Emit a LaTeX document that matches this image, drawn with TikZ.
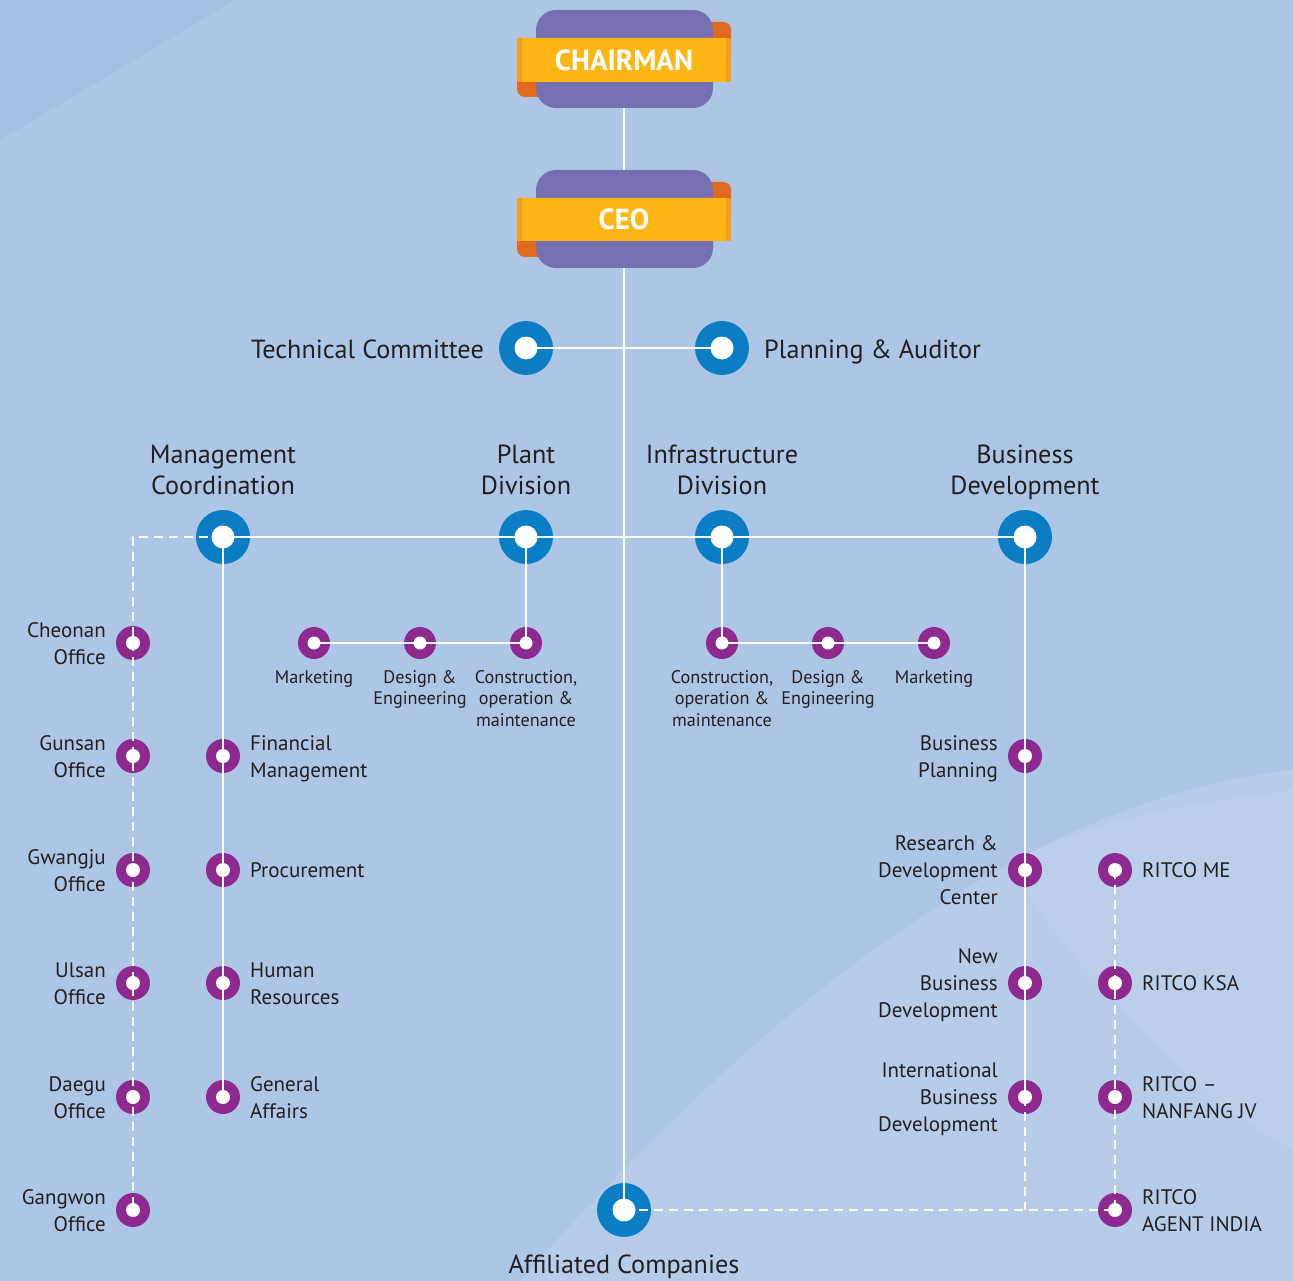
\documentclass[tikz,border=0pt]{standalone}
\usepackage{fontspec}
\setmainfont{PT Sans}
\usetikzlibrary{calc}
\definecolor{bgc}{HTML}{ADC6E6}
\definecolor{bgdark}{HTML}{A5BEE4}
\definecolor{bglight}{HTML}{C4D5EE}
\definecolor{nblue}{HTML}{0A7DC5}
\definecolor{npurp}{HTML}{8E2A8F}
\definecolor{boxp}{HTML}{7670B1}
\definecolor{ribbon}{HTML}{FDB614}
\definecolor{ribbonend}{HTML}{F5A01C}
\definecolor{tabor}{HTML}{E06A1E}
\definecolor{txt}{HTML}{231F20}
\tikzset{
  bnode/.style={circle,fill=nblue,minimum size=54pt,inner sep=0pt,
    path picture={\fill[white] (path picture bounding box.center) circle (11.5);}},
  pnode/.style={circle,fill=npurp,minimum size=34pt,inner sep=0pt,
    path picture={\fill[white] (path picture bounding box.center) circle (7);}},
  psmall/.style={circle,fill=npurp,minimum size=32pt,inner sep=0pt,
    path picture={\fill[white] (path picture bounding box.center) circle (6.5);}},
  wline/.style={white,line width=2pt},
  dline/.style={white,line width=2pt,dash pattern=on 9pt off 6pt},
  biglab/.style={text=txt,font=\fontsize{26.2}{30.5}\selectfont,align=center,inner sep=0pt,yshift=-3pt},
  sidel/.style={text=txt,font=\fontsize{21}{27}\selectfont,inner sep=0pt,yshift=-2.5pt},
  subl/.style={text=txt,font=\fontsize{18.2}{21.5}\selectfont,align=center,inner sep=0pt,anchor=north,yshift=-3pt},
  ribtext/.style={text=white,font=\fontsize{29}{30}\selectfont\bfseries,inner sep=0pt}
}
\begin{document}
\begin{tikzpicture}[x=1pt,y=-1pt]
\useasboundingbox (0,0) rectangle (1293,1281);
% background
\fill[bgc] (0,0) rectangle (1293,1281);
\fill[bgdark] (0,0) -- (235,0) -- (0,140) -- cycle;
\fill[bglight,opacity=0.45] (520,1281) .. controls (760,1010) and (1020,800) .. (1293,770) -- (1293,1281) -- cycle;
\fill[bglight,opacity=0.35] (1293,790) .. controls (1150,810) and (1050,830) .. (1010,870) .. controls (1100,1000) and (1200,1100) .. (1293,1150) -- cycle;

% Chairman box
\fill[tabor,rounded corners=8pt] (690,22) rectangle (731,62);
\fill[tabor,rounded corners=8pt] (517,58) rectangle (560,97);
\fill[boxp,rounded corners=20pt] (536,10) rectangle (713,108);
\fill[ribbon,rounded corners=3pt] (517,38) rectangle (731,82);
\fill[ribbonend] (517,38) rectangle (522,82);
\fill[ribbonend] (726,38) rectangle (731,82);
\node[ribtext] (chair) at (624,60) {CHAIRMAN};
% CEO box
\fill[tabor,rounded corners=8pt] (690,182) rectangle (731,222);
\fill[tabor,rounded corners=8pt] (517,218) rectangle (560,257);
\fill[boxp,rounded corners=20pt] (536,170) rectangle (713,268);
\fill[ribbon,rounded corners=3pt] (517,198) rectangle (731,241);
\fill[ribbonend] (517,198) rectangle (522,241);
\fill[ribbonend] (726,198) rectangle (731,241);
\node[ribtext] (ceo) at (624,219) {CEO};
\coordinate (chairb) at (624,108);
\coordinate (ceot) at (624,170);
\coordinate (ceob) at (624,268);

% main nodes
\node[bnode] (tc) at (526,348) {};
\node[bnode] (pa) at (722,348) {};
\node[bnode] (mc) at (223,537) {};
\node[bnode] (pd) at (526,537) {};
\node[bnode] (id) at (722,537) {};
\node[bnode] (bd) at (1025,537) {};
\node[bnode] (ac) at (624,1210) {};
\coordinate (mcl) at (133,537);
\coordinate (bdc) at (1025,1210);

% plant / infrastructure subnodes
\node[psmall] (p1) at (314,643) {};
\node[psmall] (p2) at (420,643) {};
\node[psmall] (p3) at (526,643) {};
\node[psmall] (i1) at (722,643) {};
\node[psmall] (i2) at (828,643) {};
\node[psmall] (i3) at (934,643) {};

% offices
\node[pnode] (o1) at (133,643) {};
\node[pnode] (o2) at (133,756) {};
\node[pnode] (o3) at (133,870) {};
\node[pnode] (o4) at (133,983) {};
\node[pnode] (o5) at (133,1097) {};
\node[pnode] (o6) at (133,1210) {};
% management
\node[pnode] (m1) at (223,756) {};
\node[pnode] (m2) at (223,870) {};
\node[pnode] (m3) at (223,983) {};
\node[pnode] (m4) at (223,1097) {};
% business dev
\node[pnode] (b1) at (1025,756) {};
\node[pnode] (b2) at (1025,870) {};
\node[pnode] (b3) at (1025,983) {};
\node[pnode] (b4) at (1025,1097) {};
% ritco
\node[pnode] (r1) at (1115,870) {};
\node[pnode] (r2) at (1115,983) {};
\node[pnode] (r3) at (1115,1097) {};
\node[pnode] (r4) at (1115,1210) {};

% connectors
\draw[wline] (chairb) -- (ceot);
\draw[wline] (ceob) -- (ac.center);
\draw[wline] (tc.center) -- (pa.center);
\draw[wline] (mc.center) -- (bd.center);
\draw[dline] (mc.center) -- (mcl) -- (o6.center);
\draw[wline] (mc.center) -- (m4.center);
\draw[wline] (pd.center) -- (p3.center);
\draw[wline] (p1.center) -- (p3.center);
\draw[wline] (id.center) -- (i1.center);
\draw[wline] (i1.center) -- (i3.center);
\draw[wline] (bd.center) -- (b4.center);
\draw[dline] (b4.center) -- (bdc);
\draw[dline] (ac.center) -- (r4.center);
\draw[dline] (r1.center) -- (r4.center);

% labels
\node[biglab,anchor=east] (ltc) at (484,349) {\strut Technical Committee};
\node[biglab,anchor=west] (lpa) at (764,349) {\strut Planning \& Auditor};
\node[biglab] (lmc) at (223,470) {\strut Management\\\strut Coordination};
\node[biglab] (lpd) at (526,470) {\strut Plant\\\strut Division};
\node[biglab] (lid) at (722,470) {\strut Infrastructure\\\strut Division};
\node[biglab] (lbd) at (1025,470) {\strut Business\\\strut Development};
\node[biglab] (lac) at (624,1264) {\strut Affiliated Companies};

\node[subl] at (314,667) {Marketing};
\node[subl] at (420,667) {Design \&\\Engineering};
\node[subl] at (526,667) {Construction,\\operation \&\\maintenance};
\node[subl] at (722,667) {Construction,\\operation \&\\maintenance};
\node[subl] at (828,667) {Design \&\\Engineering};
\node[subl] at (934,667) {Marketing};

\node[sidel,anchor=east,align=right] at (106,643) {\strut Cheonan\\\strut Office};
\node[sidel,anchor=east,align=right] at (106,756) {\strut Gunsan\\\strut Office};
\node[sidel,anchor=east,align=right] at (106,870) {\strut Gwangju\\\strut Office};
\node[sidel,anchor=east,align=right] at (106,983) {\strut Ulsan\\\strut Office};
\node[sidel,anchor=east,align=right] at (106,1097) {\strut Daegu\\\strut Office};
\node[sidel,anchor=east,align=right] at (106,1210) {\strut Gangwon\\\strut Office};

\node[sidel,anchor=west,align=left] at (250,756) {\strut Financial\\\strut Management};
\node[sidel,anchor=west,align=left] at (250,870) {\strut Procurement};
\node[sidel,anchor=west,align=left] at (250,983) {\strut Human\\\strut Resources};
\node[sidel,anchor=west,align=left] at (250,1097) {\strut General\\\strut Affairs};

\node[sidel,anchor=east,align=right] at (998,756) {\strut Business\\\strut Planning};
\node[sidel,anchor=east,align=right] at (998,870) {\strut Research \&\\\strut Development\\\strut Center};
\node[sidel,anchor=east,align=right] at (998,983) {\strut New\\\strut Business\\\strut Development};
\node[sidel,anchor=east,align=right] at (998,1097) {\strut International\\\strut Business\\\strut Development};

\node[sidel,anchor=west,align=left] at (1142,870) {\strut RITCO ME};
\node[sidel,anchor=west,align=left] at (1142,983) {\strut RITCO KSA};
\node[sidel,anchor=west,align=left] at (1142,1097) {\strut RITCO –\\\strut NANFANG JV};
\node[sidel,anchor=west,align=left] at (1142,1210) {\strut RITCO\\\strut AGENT INDIA};
\end{tikzpicture}
\end{document}
